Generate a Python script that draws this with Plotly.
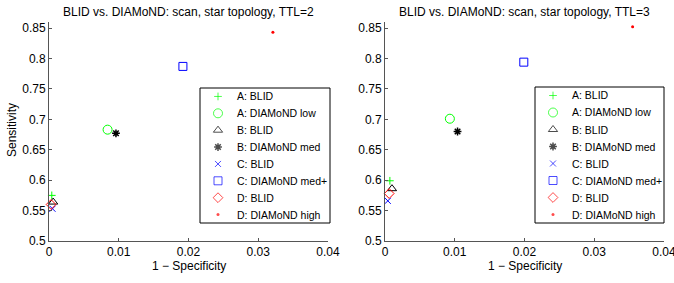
import plotly.graph_objects as go

series_names = ["A: BLID", "A: DIAMoND low", "B: BLID", "B: DIAMoND med",
                "C: BLID", "C: DIAMoND med+", "D: BLID", "D: DIAMoND high"]
ttl2_x = [0.0004, 0.0084, 0.0006, 0.0096, 0.0005, 0.0192, 0.0003, 0.0321]
ttl2_y = [0.575, 0.683, 0.564, 0.677, 0.553, 0.787, 0.560, 0.843]
ttl3_x = [0.0007, 0.0093, 0.0010, 0.0104, 0.0004, 0.0199, 0.0006, 0.0355]
ttl3_y = [0.599, 0.701, 0.586, 0.680, 0.566, 0.794, 0.578, 0.852]
titles = ["BLID vs. DIAMoND: scan, star topology, TTL=2",
          "BLID vs. DIAMoND: scan, star topology, TTL=3"]
x_title = "1 \u2212 Specificity"
y_title = "Sensitivity"
x_ticks = [0, 0.01, 0.02, 0.03, 0.04]
x_ticklabels = ["0", "0.01", "0.02", "0.03", "0.04"]
y_ticks = [0.5, 0.55, 0.6, 0.65, 0.7, 0.75, 0.8, 0.85]
y_ticklabels = ["0.5", "0.55", "0.6", "0.65", "0.7", "0.75", "0.8", "0.85"]

styles = [
    dict(symbol="cross-thin-open", size=5.5, color="#00ff00", lw=1),
    dict(symbol="circle-open", size=9, color="#00ff00", lw=1),
    dict(symbol="triangle-up-open", size=8, color="#000000", lw=1),
    dict(symbol="asterisk-open", size=6.5, color="#000000", lw=1.5),
    dict(symbol="x-thin-open", size=6, color="#0000ff", lw=1),
    dict(symbol="square-open", size=8, color="#0000ff", lw=1),
    dict(symbol="diamond-open", size=7.5, color="#ff0000", lw=1),
    dict(symbol="circle", size=3, color="#ff0000", lw=0),
]

FONT = "Liberation Sans, Arial, Helvetica, sans-serif"
W, H = 674, 283
px = lambda v: v / W
py = lambda v: 1 - v / H

fig = go.Figure()

panels = [
    dict(xs=ttl2_x, ys=ttl2_y, ax="", dom=(49, 328), leg=(200, 330, 88, 223), title=titles[0]),
    dict(xs=ttl3_x, ys=ttl3_y, ax="2", dom=(385, 664), leg=(535, 664, 87, 223), title=titles[1]),
]

axis_common = dict(showgrid=False, zeroline=False, showline=True, linecolor="#555",
                   linewidth=1, ticks="inside", ticklen=3, tickcolor="#555",
                   tickfont=dict(family=FONT, size=12, color="#000"), mirror=False,
                   automargin=False, ticklabeloverflow="allow")
hidden = dict(visible=False, showgrid=False, zeroline=False, automargin=False, fixedrange=True)

ytop, ybot = 22, 241
layout = dict(width=W, height=H, margin=dict(l=0, r=0, t=0, b=0, autoexpand=False),
              paper_bgcolor="white", plot_bgcolor="rgba(0,0,0,0)", showlegend=False,
              font=dict(family=FONT, size=11, color="#000"))
annotations = []
shapes = []

for k, p in enumerate(panels):
    xa = "x" + p["ax"]
    ya = "y" + p["ax"]
    lx = "x" + str(3 + k)
    ly = "y" + str(3 + k)
    for i, name in enumerate(series_names):
        s = styles[i]
        mk = dict(symbol=s["symbol"], size=s["size"], color=s["color"],
                  line=dict(color=s["color"], width=s["lw"]))
        fig.add_trace(go.Scatter(x=[p["xs"][i]], y=[p["ys"][i]], mode="markers",
                                 name=name, xaxis=xa, yaxis=ya, marker=mk,
                                 cliponaxis=False, hoverinfo="name+x+y"))
    # custom legend (row i centred at i + 0.5)
    l, r, t, b = p["leg"]
    fig.add_trace(go.Scatter(
        x=[18] * len(series_names), y=[i + 0.5 for i in range(len(series_names))],
        mode="markers", xaxis=lx, yaxis=ly, hoverinfo="skip",
        marker=dict(symbol=[s["symbol"] for s in styles], size=[s["size"] for s in styles],
                    color=[s["color"] for s in styles],
                    line=dict(color=[s["color"] for s in styles],
                              width=[s["lw"] for s in styles])),
        cliponaxis=False))
    for i, name in enumerate(series_names):
        annotations.append(dict(text=name, x=35, y=i + 0.5, xref=lx, yref=ly,
                                xanchor="left", yanchor="middle", showarrow=False,
                                font=dict(family=FONT, size=10.5, color="#000")))
    shapes.append(dict(type="rect", xref="paper", yref="paper",
                       x0=px(l), x1=px(r), y0=py(b), y1=py(t),
                       line=dict(color="#000", width=1), fillcolor="white", layer="below"))

    axkey = "axis" + p["ax"]
    layout["x" + axkey] = dict(domain=[px(p["dom"][0]), px(p["dom"][1])], range=[0, 0.04],
                               tickvals=x_ticks, ticktext=x_ticklabels, anchor=ya,
                               **axis_common)
    layout["y" + axkey] = dict(domain=[py(ybot), py(ytop)], range=[0.5, 0.86],
                               tickvals=y_ticks, ticktext=y_ticklabels, anchor=xa,
                               **axis_common)
    layout["xaxis" + str(3 + k)] = dict(domain=[px(l), px(r)], range=[0, r - l],
                                        anchor=ly, **hidden)
    layout["yaxis" + str(3 + k)] = dict(domain=[py(b), py(t)], range=[8, 0],
                                        anchor=lx, **hidden)
    cx = (p["dom"][0] + p["dom"][1]) / 2
    annotations.append(dict(text=p["title"], x=px(cx), y=py(12), xref="paper", yref="paper",
                            xanchor="center", yanchor="middle", showarrow=False,
                            font=dict(family=FONT, size=12, color="#000")))
    annotations.append(dict(text=x_title, x=px(cx), y=py(266), xref="paper", yref="paper",
                            xanchor="center", yanchor="middle", showarrow=False,
                            font=dict(family=FONT, size=12, color="#000")))

annotations.append(dict(text=y_title, x=px(12), y=py(130), xref="paper", yref="paper",
                        xanchor="center", yanchor="middle", showarrow=False, textangle=-90,
                        font=dict(family=FONT, size=12, color="#000")))

layout["annotations"] = annotations
layout["shapes"] = shapes
fig.update_layout(**layout)

# remove the browser's default 8px body margin so the figure fills the window
fig.write_html("out.html", config={"displayModeBar": False},
               post_script="document.body.style.margin='0';document.body.style.overflow='hidden';")
